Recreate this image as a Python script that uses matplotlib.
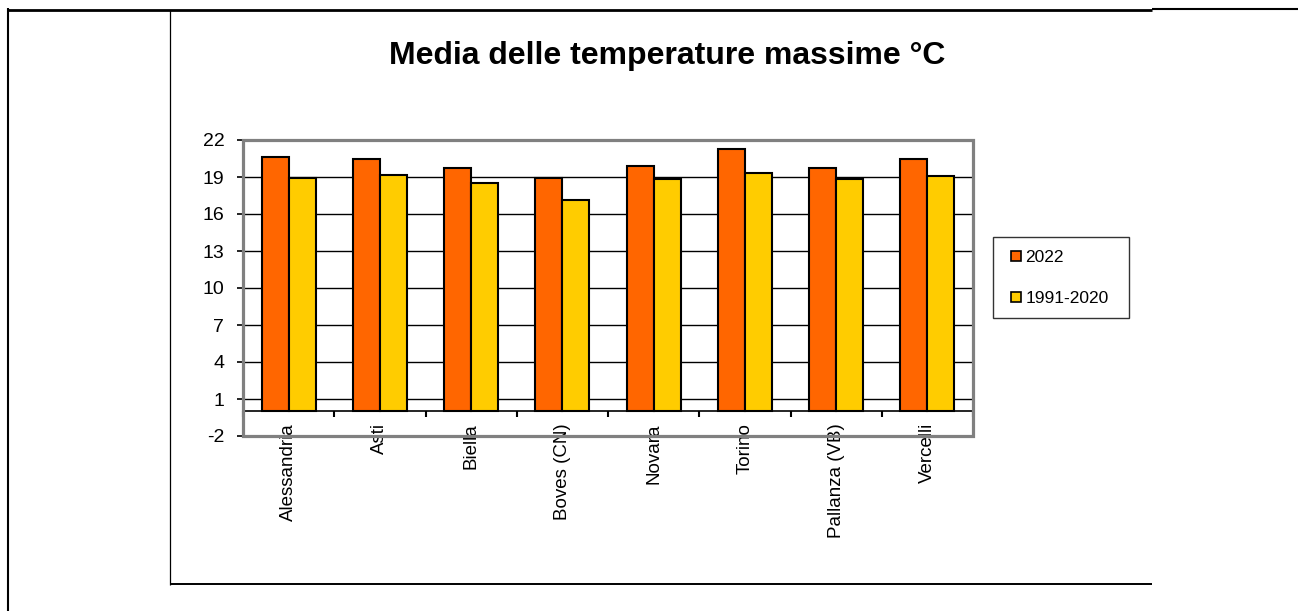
import matplotlib
matplotlib.use("Agg")
import matplotlib.pyplot as plt
from matplotlib.lines import Line2D
from matplotlib.patches import Rectangle
import numpy as np

plt.rcParams['font.family'] = ['Liberation Sans', 'DejaVu Sans']

# ---- data ----
categories = ["Alessandria", "Asti", "Biella", "Boves (CN)", "Novara",
              "Torino", "Pallanza (VB)", "Vercelli"]
series_names = ["2022", "1991-2020"]
values_2022 = [20.6, 20.5, 19.7, 18.9, 19.9, 21.3, 19.7, 20.5]
values_clim = [18.9, 19.2, 18.5, 17.1, 18.85, 19.3, 18.8, 19.1]
yticks = [-2, 1, 4, 7, 10, 13, 16, 19, 22]
title = "Media delle temperature massime °C"

orange = "#FF6600"
yellow = "#FFCC00"
grey = "#808080"

W, H = 1299, 611
fig = plt.figure(figsize=(W / 100, H / 100), dpi=100)
fig.patch.set_facecolor("white")


def fx(x):
    return x / W


def fy(y):
    return 1 - y / H


# axes position (pixels)
L, R, T, B = 243, 973, 140, 436
ax = fig.add_axes([fx(L), fy(B), (R - L) / W, (B - T) / H])

x = np.arange(len(categories))
w = 0.296
ax.bar(x - w / 2, values_2022, width=w, color=orange, edgecolor="black",
       linewidth=1.5, zorder=4, label=series_names[0])
ax.bar(x + w / 2, values_clim, width=w, color=yellow, edgecolor="black",
       linewidth=1.5, zorder=4, label=series_names[1])

ax.set_xlim(-0.5, len(categories) - 0.5)
ax.set_ylim(yticks[0], yticks[-1])
ax.set_yticks(yticks)
ax.set_yticklabels([str(t) for t in yticks])
ax.yaxis.grid(True, color="black", linewidth=1.0)
ax.set_axisbelow(True)
ax.tick_params(axis="y", direction="out", length=4.5, width=1.2,
               labelsize=14, pad=9, colors="black")

for s in ["left", "right", "top"]:
    ax.spines[s].set_visible(False)
ax.spines["bottom"].set_position(("data", 0))
ax.spines["bottom"].set_color("black")
ax.spines["bottom"].set_linewidth(1.2)
ax.spines["bottom"].set_zorder(3)

# boundary ticks (major, no labels) and category labels (minor)
ax.set_xticks(np.arange(-0.5, len(categories), 1.0))
ax.set_xticklabels([])
ax.tick_params(axis="x", which="major", direction="out", length=4, width=1.5)
ax.set_xticks(x, minor=True)
ax.set_xticklabels(categories, minor=True, rotation=90, va="top", ha="center")
ax.tick_params(axis="x", which="minor", length=0, pad=8.5, labelsize=13.5)

# grey plot frame
ax.add_patch(Rectangle((0, 0), 1, 1, transform=ax.transAxes, fill=False,
                       edgecolor=grey, linewidth=2.3, clip_on=False, zorder=5))

# title
fig.text(fx(667), fy(56), title, ha="center", va="center",
         fontsize=23, fontweight="bold")

# legend
handles = [Line2D([], [], marker="s", linestyle="none", markersize=7.2,
                  markerfacecolor=c, markeredgecolor="black", markeredgewidth=1.2)
           for c in (orange, yellow)]
leg = fig.legend(handles, series_names,
                 loc="upper left",
                 bbox_to_anchor=(fx(993), fy(317), 136 / W, 80 / H),
                 mode="expand", fontsize=12.5, frameon=True, fancybox=False,
                 borderpad=0.72, labelspacing=1.5, handlelength=1.22,
                 handletextpad=-0.07, borderaxespad=0)
leg.get_frame().set_edgecolor("black")
leg.get_frame().set_linewidth(1.0)

# outer frame lines
def hline(x0, x1, y, lw):
    fig.add_artist(Line2D([fx(x0), fx(x1)], [fy(y), fy(y)],
                          transform=fig.transFigure, color="black", linewidth=lw,
                          solid_capstyle="butt"))


def vline(x, y0, y1, lw):
    fig.add_artist(Line2D([fx(x), fx(x)], [fy(y0), fy(y1)],
                          transform=fig.transFigure, color="black", linewidth=lw,
                          solid_capstyle="butt"))


hline(7.3, 1152, 9.6, 2.0)
hline(1152, 1298, 9.2, 1.5)
vline(8.3, 8.3, 611, 1.5)
vline(169.8, 10, 584.5, 0.9)
hline(169.5, 1152, 583.6, 1.4)

fig.savefig("out.png", dpi=100, facecolor="white")
